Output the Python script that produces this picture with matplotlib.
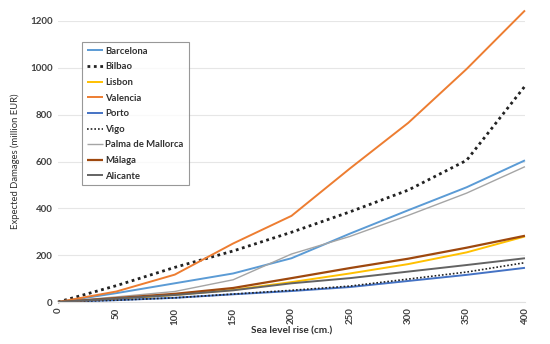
import matplotlib
matplotlib.use("Agg")
import matplotlib.pyplot as plt

sea_level = [0, 50, 100, 150, 200, 250, 300, 350, 400]
x_ticks = [0, 50, 100, 150, 200, 250, 300, 350, 400]
y_ticks = [0, 200, 400, 600, 800, 1000, 1200]

barcelona = [0, 38, 80, 122, 187, 292, 392, 490, 605]
bilbao = [0, 70, 148, 218, 298, 385, 478, 605, 922]
lisbon = [0, 14, 30, 52, 85, 122, 162, 212, 280]
valencia = [0, 45, 117, 250, 368, 570, 765, 995, 1245]
porto = [0, 8, 18, 33, 47, 64, 90, 116, 146]
vigo = [0, 8, 18, 34, 50, 68, 98, 128, 168]
palma = [0, 22, 45, 95, 205, 280, 370, 465, 578]
malaga = [0, 17, 35, 60, 102, 145, 185, 232, 283]
alicante = [0, 15, 30, 50, 80, 102, 130, 158, 187]

series = [
    ("Barcelona", barcelona, dict(color="#5B9BD5", lw=1.4, ls="-")),
    ("Bilbao", bilbao, dict(color="#222222", lw=2.0, ls=(0, (1, 1.3)))),
    ("Lisbon", lisbon, dict(color="#FFC000", lw=1.4, ls="-")),
    ("Valencia", valencia, dict(color="#ED7D31", lw=1.4, ls="-")),
    ("Porto", porto, dict(color="#4472C4", lw=1.4, ls="-")),
    ("Vigo", vigo, dict(color="#222222", lw=1.2, ls=(0, (1, 1.2)))),
    ("Palma de Mallorca", palma, dict(color="#A5A5A5", lw=1.0, ls="-")),
    ("Málaga", malaga, dict(color="#9E480E", lw=1.6, ls="-")),
    ("Alicante", alicante, dict(color="#636363", lw=1.4, ls="-")),
]

plt.rcParams['font.family'] = ['Lato', 'DejaVu Sans']
fig = plt.figure(figsize=(5.5, 3.44), dpi=100)
ax = fig.add_axes([0.1055, 0.122, 0.849, 0.817])

for name, vals, st in series:
    ax.plot(sea_level, vals, label=name, solid_capstyle='butt',
            clip_on=False, **st)

ax.set_xlim(0, 400)
ax.set_ylim(0, 1200)
ax.set_xticks(x_ticks)
ax.set_xticklabels([str(v) for v in x_ticks], rotation=90, fontsize=7,
                   fontweight='bold', color='#404040')
ax.set_yticks(y_ticks)
ax.set_yticklabels([str(v) for v in y_ticks], fontsize=7,
                   fontweight='bold', color='#404040')
ax.tick_params(axis='both', length=0, pad=4)
ax.grid(axis='y', color='#E6E6E6', lw=0.8)
ax.set_axisbelow(True)
for s in ['top', 'right', 'left']:
    ax.spines[s].set_visible(False)
ax.spines['bottom'].set_color('#E0E0E0')
ax.spines['bottom'].set_linewidth(0.8)

ax.set_xlabel("Sea level rise (cm.)", fontsize=7.2, fontweight='bold',
              color='#303030', labelpad=1)
ax.set_ylabel("Expected Damages (million EUR)", fontsize=6.8,
              color='#303030', labelpad=7)

leg = ax.legend(loc='upper left', bbox_to_anchor=(0.051, 0.925),
                borderaxespad=0, fontsize=6.8, frameon=True, fancybox=False,
                edgecolor='#7F7F7F', handlelength=1.7, handletextpad=0.3,
                labelspacing=0.7, borderpad=0.5)
leg.get_frame().set_linewidth(0.8)
for t in leg.get_texts():
    t.set_fontweight('bold')
    t.set_color('#303030')

fig.savefig("out.png", dpi=100, facecolor='white')
